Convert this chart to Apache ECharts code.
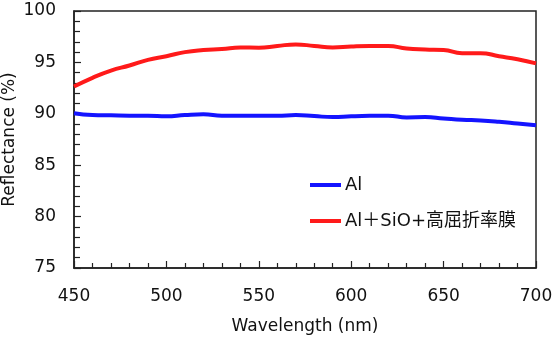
<!DOCTYPE html>
<html><head><meta charset="utf-8">
<script src="https://cdn.jsdelivr.net/npm/echarts@6/dist/echarts.min.js"></script>
<style>html,body{margin:0;padding:0;background:#fff}#c{width:554px;height:340px}</style>
</head><body><div id="c"></div>
<script>
var wavelengths = [450,460,470,480,490,500,510,520,530,540,550,560,570,580,590,600,610,620,630,640,650,660,670,680,690,700];
var alValues = [90.05,89.88,89.85,89.82,89.82,89.76,89.88,89.95,89.82,89.8,89.8,89.8,89.88,89.78,89.68,89.75,89.8,89.82,89.65,89.68,89.55,89.42,89.35,89.22,89.05,88.88];
var coatedValues = [92.65,93.5,94.2,94.7,95.25,95.6,96.0,96.2,96.3,96.45,96.43,96.6,96.75,96.6,96.45,96.55,96.6,96.6,96.35,96.25,96.2,95.9,95.9,95.6,95.3,94.9];
var seriesNames = ['Al', 'Al\uFF0BSiO+高屈折率膜'];
var xTitle = 'Wavelength (nm)';
var yTitle = 'Reflectance (%)';

function pairs(xs, ys){ return xs.map(function(x,i){ return [x, ys[i]]; }); }
var font = '"DejaVu Sans", "Noto Sans CJK JP", sans-serif';
var chart = echarts.init(document.getElementById('c'));
chart.setOption({
  animation: false,
  textStyle: {fontFamily: font},
  grid: {left: 74, right: 18, top: 11, bottom: 72, containLabel: false, outerBoundsMode: 'none',
         show: true, borderColor: '#222', borderWidth: 1.5},
  legend: {
    orient: 'vertical', left: 310, top: 176, padding: 0, itemGap: 18, itemWidth: 31, itemHeight: 4,
    textStyle: {fontFamily: font, fontSize: 18, color: '#111', padding: [0,0,0,-1]},
    data: [{name: seriesNames[0], icon: 'rect'}, {name: seriesNames[1], icon: 'rect'}]
  },
  xAxis: {
    type: 'value', min: 450, max: 700, interval: 50,
    name: xTitle, nameLocation: 'middle', nameGap: 50, nameMoveOverlap: false,
    nameTextStyle: {fontSize: 17, color: '#111', fontFamily: font},
    axisLine: {lineStyle: {color: '#222', width: 1.5}},
    axisTick: {inside: true, length: 7, lineStyle: {color: '#222', width: 1.2}},
    minorTick: {show: true, splitNumber: 5, length: 5, lineStyle: {color: '#222', width: 1.2}},
    axisLabel: {fontSize: 17, color: '#111', margin: 20, fontFamily: font},
    splitLine: {show: false}
  },
  yAxis: {
    type: 'value', min: 75, max: 100, interval: 5,
    name: yTitle, nameLocation: 'middle', nameGap: 56, nameMoveOverlap: false,
    nameTextStyle: {fontSize: 17, color: '#111', fontFamily: font},
    axisLine: {show: true, lineStyle: {color: '#222', width: 1.5}},
    axisTick: {inside: true, length: 7, lineStyle: {color: '#222', width: 1.2}},
    minorTick: {show: true, splitNumber: 5, length: 6, lineStyle: {color: '#222', width: 1.2}},
    axisLabel: {fontSize: 17, color: '#111', margin: 18, fontFamily: font},
    splitLine: {show: false}
  },
  series: [
    {name: seriesNames[0], type: 'line', data: pairs(wavelengths, alValues), smooth: true, showSymbol: false,
     lineStyle: {color: '#1414ff', width: 4}, itemStyle: {color: '#1414ff'}},
    {name: seriesNames[1], type: 'line', data: pairs(wavelengths, coatedValues), smooth: true, showSymbol: false,
     lineStyle: {color: '#ff1a1a', width: 4}, itemStyle: {color: '#ff1a1a'}}
  ]
});
</script></body></html>
